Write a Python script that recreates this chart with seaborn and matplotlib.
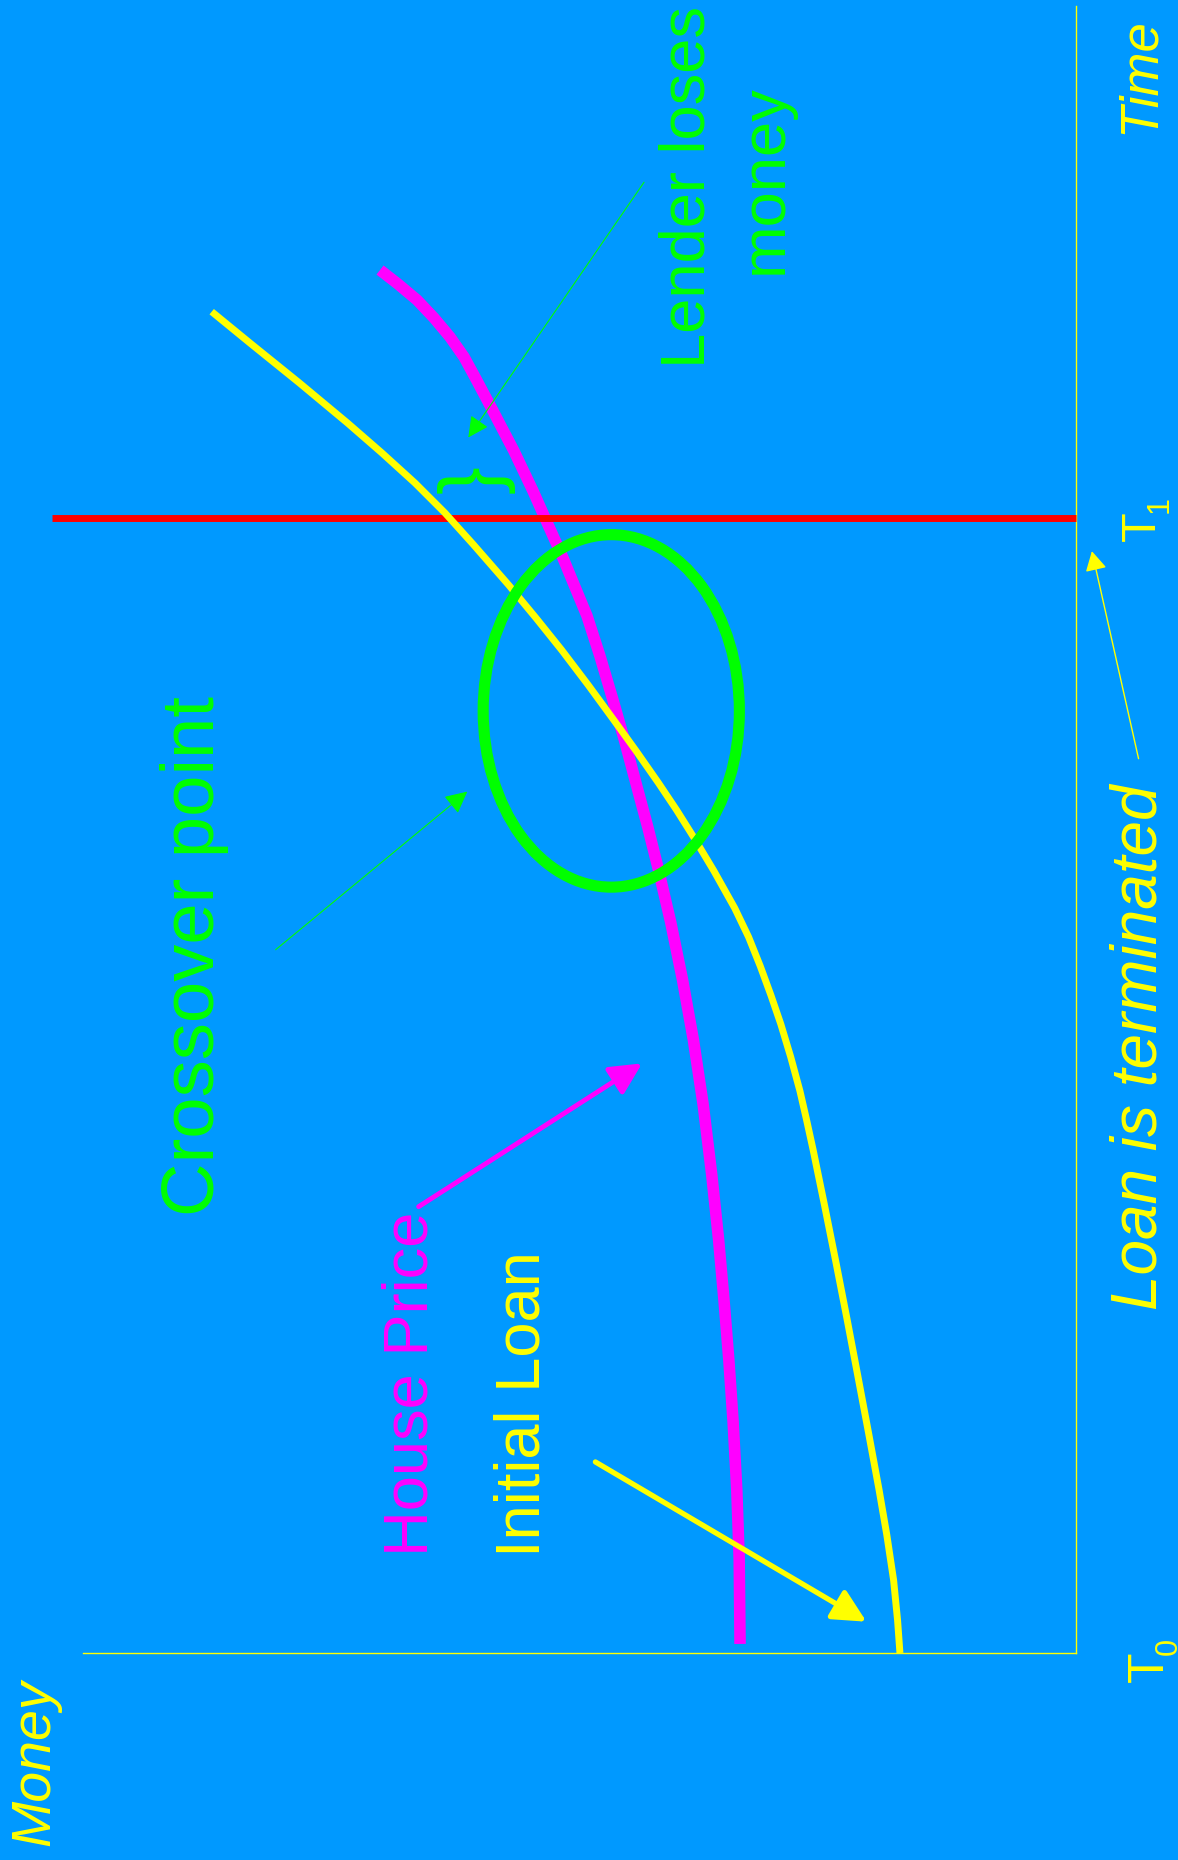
import matplotlib
matplotlib.use("Agg")
import matplotlib.pyplot as plt
from matplotlib.patches import Ellipse
import pandas as pd
import seaborn as sns

# ---------------- data (time 0..100 upward, money 0..100 leftward) ----------------
house_time = [0.55, 5.77, 9.90, 14.03, 17.79, 21.43, 25.08, 29.02, 33.27, 37.22,
              40.86, 44.38, 47.66, 50.09, 52.58, 55.31, 57.86, 60.53, 62.96, 66.48,
              68.91, 70.55, 72.98, 75.41, 77.35, 78.69, 79.90, 81.06, 82.15, 83.12,
              83.97]
house_price = [33.83, 33.92, 34.16, 34.53, 34.96, 35.45, 35.99, 36.68, 37.54, 38.53,
               39.62, 40.82, 42.09, 43.10, 44.21, 45.42, 46.63, 47.94, 49.24, 51.66,
               53.47, 54.68, 56.60, 58.71, 60.42, 61.63, 63.04, 64.65, 66.36, 68.28,
               70.09]

loan_time = [0.00, 2.00, 4.43, 7.16, 9.90, 13.36, 16.82, 20.22, 23.68, 27.14,
             30.54, 32.36, 34.12, 36.19, 38.19, 39.95, 41.71, 43.47, 45.23, 47.48,
             49.54, 51.18, 52.82, 54.77, 56.65, 58.77, 60.90, 62.84, 64.85, 67.33,
             69.22, 71.04, 72.86, 74.68, 77.11, 79.54, 81.44]
loan_value = [17.73, 17.97, 18.37, 19.05, 19.83, 20.89, 21.97, 23.04, 24.16, 25.31,
              26.47, 27.13, 27.80, 28.73, 29.73, 30.73, 31.80, 32.97, 34.37, 36.46,
              38.51, 40.22, 42.04, 44.30, 46.55, 49.12, 51.80, 54.38, 57.14, 60.73,
              63.55, 66.57, 69.89, 73.36, 78.20, 83.19, 87.04]

t1_time = 68.9                 # loan terminated at T1
t1_line_money = [0.0, 103.1]   # extent of the T1 marker line

crossover_center = (46.8, 57.2)   # (money, time)
crossover_size = (25.8, 21.4)     # (money span, time span)

labels = {
    "crossover": "Crossover point",
    "house": "House Price",
    "loan": "Initial Loan",
    "lender1": "Lender loses",
    "lender2": "money",
    "time": "Time",
    "money": "Money",
    "terminated": "Loan is terminated",
}

# ---------------- style ----------------
BG = "#0099FF"
YELLOW = "#FFFF00"
MAGENTA = "#FF00FF"
GREEN = "#00FF00"
RED = "#FF0000"

sns.set_style("white", {"axes.facecolor": BG, "figure.facecolor": BG})
plt.rcParams["font.family"] = ["Liberation Sans", "DejaVu Sans"]

fig = plt.figure(figsize=(11.78, 18.60), dpi=100)
fig.patch.set_facecolor(BG)
ax = fig.add_axes([83 / 1178, 1 - 1653 / 1860, 993 / 1178, 1647 / 1860])
ax.set_facecolor(BG)
ax.set_xlim(100, 0)
ax.set_ylim(0, 100)
ax.set_xticks([])
ax.set_yticks([])
for side in ["top", "left"]:
    ax.spines[side].set_visible(False)
for side in ["right", "bottom"]:
    ax.spines[side].set_color(YELLOW)
    ax.spines[side].set_linewidth(1.0)

house_df = pd.DataFrame({"money": house_price, "time": house_time})
loan_df = pd.DataFrame({"money": loan_value, "time": loan_time})
t1_df = pd.DataFrame({"money": t1_line_money, "time": [t1_time] * len(t1_line_money)})

sns.lineplot(data=house_df, x="money", y="time", sort=False, estimator=None, ax=ax,
             color=MAGENTA, linewidth=8.3, solid_capstyle="butt",
             solid_joinstyle="round", zorder=2, clip_on=False)
sns.lineplot(data=t1_df, x="money", y="time", sort=False, estimator=None, ax=ax,
             color=RED, linewidth=5, solid_capstyle="butt", zorder=3, clip_on=False)
sns.lineplot(data=loan_df, x="money", y="time", sort=False, estimator=None, ax=ax,
             color=YELLOW, linewidth=5, solid_capstyle="butt",
             solid_joinstyle="round", zorder=4, clip_on=False)

ax.add_patch(Ellipse(crossover_center, crossover_size[0], crossover_size[1],
                     fill=False, edgecolor=GREEN, linewidth=8, zorder=5, clip_on=False))

# ---------------- arrows ----------------
def arrow(tail, tip, color, lw, ms, hw=0.2):
    ax.annotate("", xy=tip, xytext=tail, annotation_clip=False,
                arrowprops=dict(arrowstyle=f"-|>,head_length=0.4,head_width={hw}",
                                color=color, lw=lw, mutation_scale=ms,
                                shrinkA=0, shrinkB=0), zorder=6)

arrow((80.6, 42.7), (61.3, 52.3), GREEN, 0.8, 34)
arrow((43.5, 89.3), (61.2, 73.8), GREEN, 0.8, 32)
arrow((66.2, 27.1), (43.7, 35.8), MAGENTA, 3.5, 48)
arrow((48.4, 11.6), (21.1, 1.9), YELLOW, 3.8, 50)
arrow((-6.3, 54.3), (-1.6, 66.9), YELLOW, 1.0, 30, 0.22)

# ---------------- texts ----------------
def rtext(m, t, s, color, size, ha="left", style="normal"):
    ax.text(m, t, s, color=color, fontsize=size, rotation=90, rotation_mode="anchor",
            ha=ha, va="baseline", fontstyle=style, clip_on=False, zorder=7)

rtext(86.8, 42.3, labels["crossover"], GREEN, 53.5, ha="center")
rtext(65.3, 5.9, labels["house"], MAGENTA, 45.5)
rtext(54.0, 5.8, labels["loan"], YELLOW, 45.5)
rtext(37.4, 89.0, labels["lender1"], GREEN, 45.5, ha="center")
rtext(29.6, 89.5, labels["lender2"], GREEN, 45.5, ha="center")
rtext(-7.85, 92.2, labels["time"], YELLOW, 38, style="italic")
rtext(-8.06, 20.8, labels["terminated"], YELLOW, 46, style="italic")
rtext(103.4, -11.7, labels["money"], YELLOW, 40, style="italic")
rtext(-7.96, 67.5, "T", YELLOW, 35)
rtext(-9.26, 69.2, "1", YELLOW, 22)
rtext(-8.76, -1.76, "T", YELLOW, 36)
rtext(-10.13, -0.1, "0", YELLOW, 22)

# brace marking the loss gap at T1
ax.text(60.5, 71.3, "}", color=GREEN, fontsize=60, rotation=90, ha="center",
        va="center", clip_on=False, zorder=7)

fig.savefig("out.png", dpi=100, facecolor=BG)
